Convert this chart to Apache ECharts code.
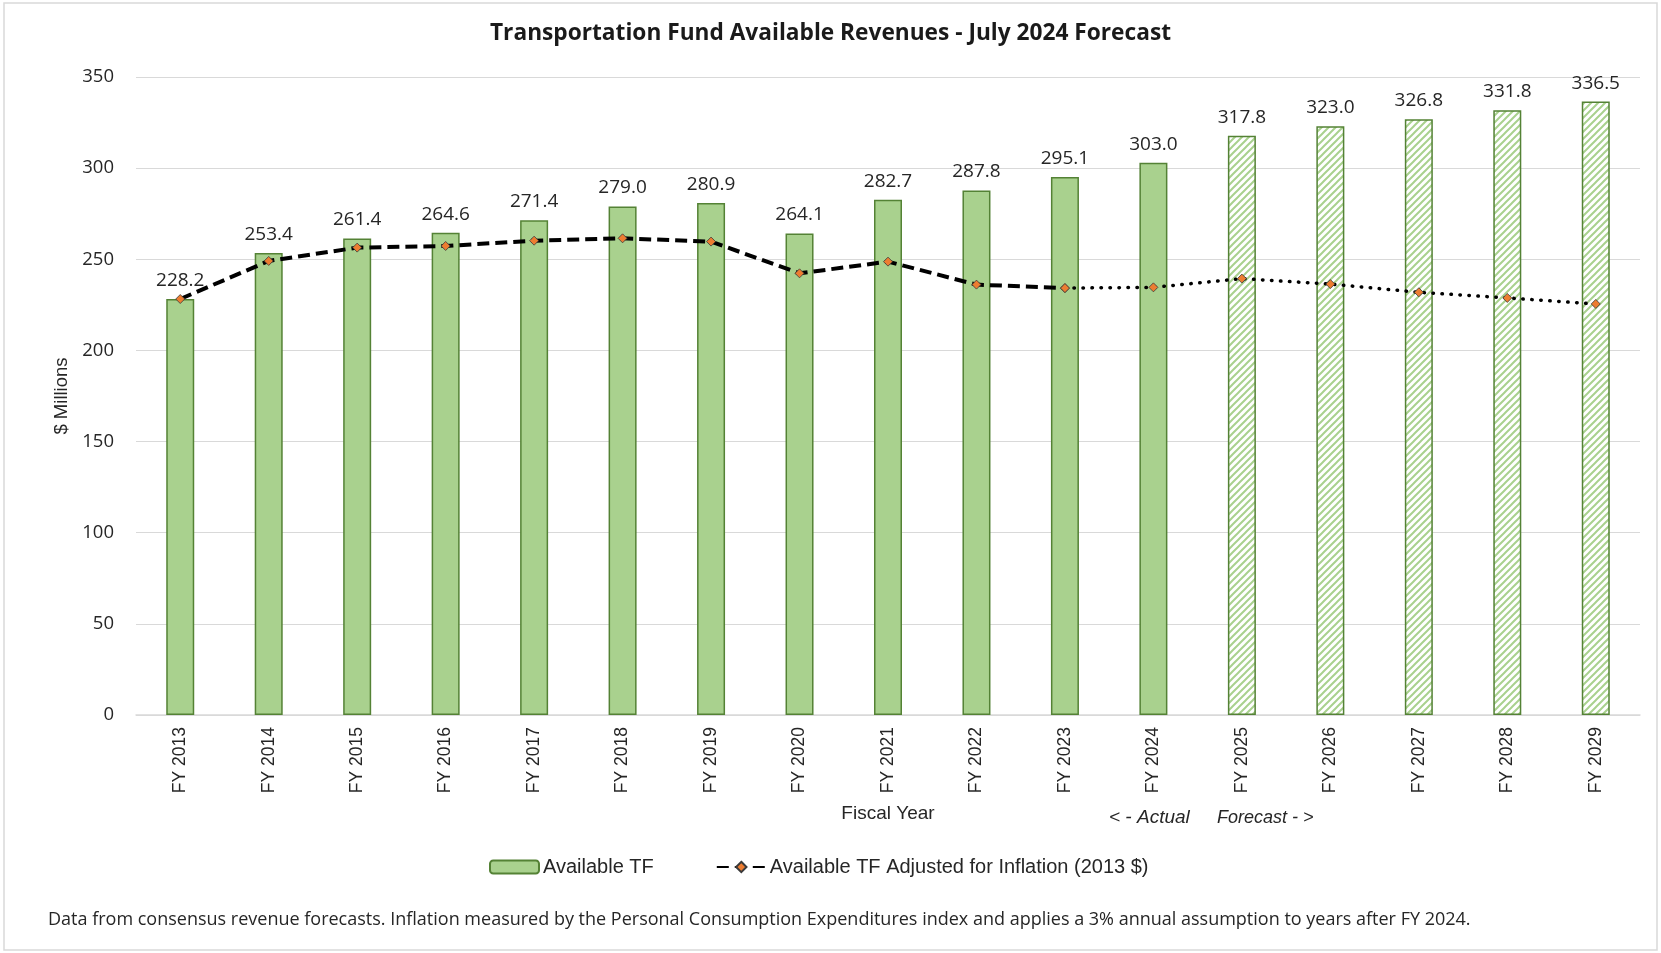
<!DOCTYPE html>
<html>
<head>
<meta charset="utf-8">
<script src="https://cdn.jsdelivr.net/npm/echarts@6/dist/echarts.min.js"></script>
<style>
html,body{margin:0;padding:0;background:#fff;}
#chart{width:1661px;height:953px;}
</style>
</head>
<body>
<div id="chart"></div>
<script>
const categories = ['FY 2013','FY 2014','FY 2015','FY 2016','FY 2017','FY 2018','FY 2019','FY 2020','FY 2021','FY 2022','FY 2023','FY 2024','FY 2025','FY 2026','FY 2027','FY 2028','FY 2029'];
const availableTF = [228.2, 253.4, 261.4, 264.6, 271.4, 279.0, 280.9, 264.1, 282.7, 287.8, 295.1, 303.0, 317.8, 323.0, 326.8, 331.8, 336.5];
const adjustedActual = [228.2, 249.1, 256.4, 257.3, 260.2, 261.5, 259.7, 242.3, 248.7, 236.1, 234.2, null, null, null, null, null, null];
const adjustedForecast = [null, null, null, null, null, null, null, null, null, null, 234.2, 234.6, 239.4, 236.4, 231.9, 228.8, 225.5];
const forecastStartIndex = 12;
const yMin = 0, yMax = 350, yInterval = 50;

const titleText = 'Transportation Fund Available Revenues - July 2024 Forecast';
const barName = 'Available TF';
const lineName = 'Available TF Adjusted for Inflation (2013 $)';
const footnote = 'Data from consensus revenue forecasts. Inflation measured by the Personal Consumption Expenditures index and applies a 3% annual assumption to years after FY 2024.';

const FILL = '#a9d18e', EDGE = '#548235';

function hatch() {
  const s = 7;
  const c = document.createElement('canvas');
  c.width = s; c.height = s;
  const g = c.getContext('2d');
  g.fillStyle = '#fff'; g.fillRect(0,0,s,s);
  g.strokeStyle = FILL; g.lineWidth = 2;
  g.beginPath();
  g.moveTo(-1, s+1); g.lineTo(s+1, -1);
  g.moveTo(-1, 1); g.lineTo(1, -1);
  g.moveTo(s-1, s+1); g.lineTo(s+1, s-1);
  g.stroke();
  return c;
}
const hatchPattern = {image: hatch(), repeat: 'repeat'};

const barData = availableTF.map((v, i) => i >= forecastStartIndex
  ? {value: v, itemStyle: {color: hatchPattern, borderColor: EDGE, borderWidth: 1.5}}
  : v);

const chart = echarts.init(document.getElementById('chart'));
const lineMarker = {symbol: 'diamond', symbolSize: 9, itemStyle: {color: '#ed7d31', borderColor: '#3a3a3a', borderWidth: 0.8}};

chart.setOption({
  animation: false,
  backgroundColor: '#fff',
  textStyle: {fontFamily: 'Open Sans'},
  title: {
    text: titleText, left: 'center', top: 17,
    textStyle: {fontFamily: 'Open Sans', fontWeight: 'bold', fontSize: 22.7, color: '#1a1a1a'}
  },
  grid: {left: 136, right: 21, top: 77, bottom: 238, containLabel: false},
  legend: {
    data: [barName, lineName],
    left: 484, top: 852,
    itemWidth: 49, itemHeight: 13, itemGap: 62,
    textStyle: {fontFamily: 'Liberation Sans', fontSize: 20, color: '#262626', padding: [0,0,0,-1],
      rich: {}},
    formatter: n => n
  },
  xAxis: {
    type: 'category', data: categories,
    name: 'Fiscal Year', nameLocation: 'middle', nameGap: 89,
    nameTextStyle: {fontFamily: 'Liberation Sans', fontSize: 19, color: '#262626'},
    axisLine: {lineStyle: {color: '#d9d9d9', width: 1.5}},
    axisTick: {show: false},
    axisLabel: {rotate: 90, margin: 12, fontFamily: 'Liberation Sans', fontSize: 17.5, color: '#262626'}
  },
  yAxis: {
    type: 'value', min: yMin, max: yMax, interval: yInterval,
    name: '$ Millions', nameLocation: 'middle', nameGap: 63,
    nameTextStyle: {fontFamily: 'Liberation Sans', fontSize: 18.5, color: '#262626'},
    axisLine: {show: false}, axisTick: {show: false},
    splitLine: {lineStyle: {color: '#d9d9d9', width: 1.2}},
    axisLabel: {margin: 22, fontFamily: 'Open Sans', fontSize: 18.5, color: '#262626'}
  },
  series: [
    {
      name: barName, type: 'bar', data: barData, barWidth: 28,
      itemStyle: {color: FILL, borderColor: EDGE, borderWidth: 1.5},
      label: {show: true, position: 'top', distance: 9, fontFamily: 'Open Sans', fontSize: 19, color: '#262626',
        formatter: p => Number(p.value).toFixed(1)},
      z: 2
    },
    Object.assign({
      name: lineName, type: 'line', data: adjustedActual,
      lineStyle: {color: '#000', width: 4, type: [12, 6]},
      z: 5
    }, lineMarker),
    Object.assign({
      name: 'Adjusted forecast', type: 'line', data: adjustedForecast,
      lineStyle: {color: '#000', width: 3.5, type: [0.5, 8.5], cap: 'round'},
      z: 4
    }, lineMarker)
  ],
  graphic: [
    {type: 'rect', shape: {x: 4, y: 3, width: 1653, height: 947}, style: {fill: null, stroke: '#d9d9d9', lineWidth: 1.5}, silent: true},
    {type: 'text', x: 1109, y: 818, style: {text: '< - Actual', font: 'italic 19px "Liberation Sans"', fill: '#262626', verticalAlign: 'middle'}},
    {type: 'text', x: 1217, y: 818, style: {text: 'Forecast - >', font: 'italic 18px "Liberation Sans"', fill: '#262626', verticalAlign: 'middle'}},
    {type: 'text', x: 48, y: 920, style: {text: footnote, font: '18px "Open Sans"', fill: '#262626', verticalAlign: 'middle'}}
  ]
});
</script>
</body>
</html>
